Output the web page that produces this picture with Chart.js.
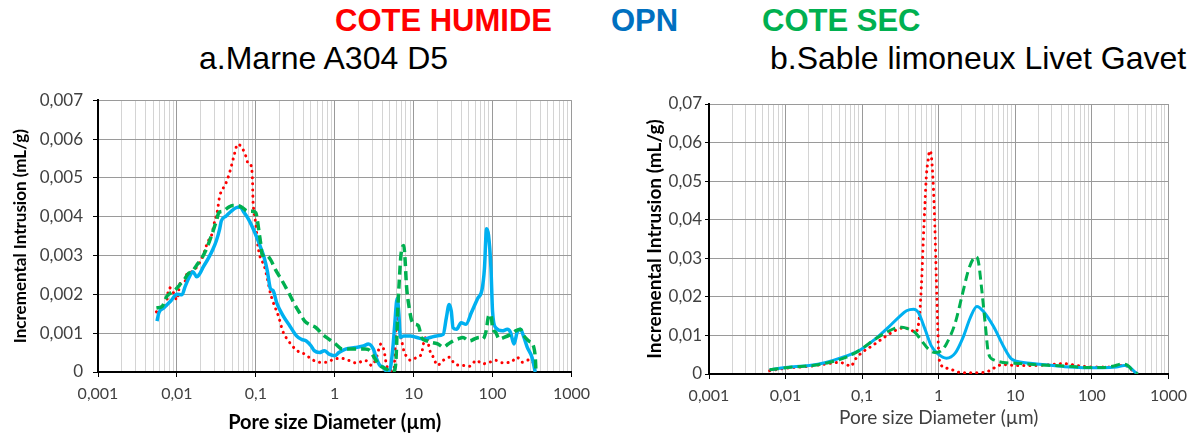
<!DOCTYPE html>
<html lang="fr">
<head>
<meta charset="UTF-8">
<title>Pore size distribution</title>
<script src="https://cdn.jsdelivr.net/npm/chart.js"></script>
<style>
    body { margin: 0; background: #fff; width: 1194px; height: 435px; overflow: hidden; position: relative; font-family: 'Liberation Sans', Arial, sans-serif; }
    .head { position: absolute; white-space: nowrap; line-height: 1; }
    .big { font-size: 31px; font-weight: bold; }
    .sub { font-size: 32px; color: #000; }
    .box { position: absolute; top: 80px; width: 597px; height: 355px; }
</style>
</head>
<body>
<div class="head big" style="left:335px; top:5px; color:#ff0000;">COTE HUMIDE</div>
<div class="head big" style="left:611px; top:5px; color:#0070c0;">OPN</div>
<div class="head big" style="left:762px; top:5px; color:#00b050;">COTE SEC</div>
<div class="head sub" style="left:199px; top:42px;">a.Marne A304 D5</div>
<div class="head sub" style="left:770px; top:42px;">b.Sable limoneux Livet Gavet</div>

<div class="box" style="left:0;"><canvas id="chartA"></canvas></div>
<div class="box" style="left:597px;"><canvas id="chartB"></canvas></div>

<script>
// tick labels
const xTickLabels = ['0,001', '0,01', '0,1', '1', '10', '100', '1000'];
const yLabelsA = ['0', '0,001', '0,002', '0,003', '0,004', '0,005', '0,006', '0,007'];
const yLabelsB = ['0', '0,01', '0,02', '0,03', '0,04', '0,05', '0,06', '0,07'];

// a. Marne A304 D5 -- pore diameter (µm) / incremental intrusion (mL/g)
const humideAX = [0.0055, 0.0065, 0.0074, 0.0076, 0.0081, 0.009, 0.01, 0.0105, 0.0108, 0.0127, 0.0133, 0.0154, 0.0178, 0.02, 0.0226, 0.0244, 0.0274, 0.0302, 0.0323, 0.0348, 0.0414, 0.0455, 0.0487, 0.0537, 0.0589, 0.068, 0.075, 0.081, 0.087, 0.0908, 0.092, 0.0954, 0.1, 0.105, 0.112, 0.127, 0.14, 0.153, 0.165, 0.194, 0.22, 0.251, 0.334, 0.428, 0.5, 0.64, 0.79, 1.0, 1.24, 1.5, 1.9, 2.43, 2.94, 3.39, 3.84, 4.22, 4.5, 4.96, 5.62, 5.9, 6.1, 6.3, 6.6, 6.9, 7.2, 7.6, 8.4, 9.1, 11, 12.6, 13.3, 14.7, 15.4, 16.3, 17.8, 20, 23.7, 28.7, 33, 42, 52, 62, 75, 91, 110, 133, 170, 205, 237, 288, 333, 348];
const humideAY = [0.00155, 0.00163, 0.00175, 0.00197, 0.00217, 0.00205, 0.00186, 0.00207, 0.00226, 0.00234, 0.00251, 0.00258, 0.0027, 0.00287, 0.00313, 0.00334, 0.00351, 0.00389, 0.0041, 0.00452, 0.00484, 0.00507, 0.00528, 0.00562, 0.00587, 0.00575, 0.00555, 0.00534, 0.00532, 0.0049, 0.00444, 0.0041, 0.0038, 0.00334, 0.003, 0.00275, 0.00241, 0.00203, 0.00181, 0.00143, 0.00105, 0.00084, 0.00055, 0.00045, 0.00034, 0.00025, 0.00025, 0.00034, 0.00035, 0.0003, 0.00023, 0.0003, 0.00017, 0.00038, 0.00072, 0.00055, 0.00021, 0.00004, 0.00004, 0.00088, 0.0013, 0.00144, 0.0011, 0.00089, 0.00072, 0.00051, 0.00038, 0.0003, 0.00038, 0.00047, 0.00072, 0.00093, 0.00072, 0.00051, 0.00038, 0.00017, 0.0003, 0.00038, 0.00021, 0.00017, 0.00015, 0.0003, 0.00021, 0.00025, 0.0003, 0.00024, 0.00025, 0.00038, 0.00025, 0.00031, 0.00021, 0.00004];
const opnAX = [0.0056, 0.0059, 0.0068, 0.0083, 0.01, 0.0116, 0.0127, 0.0147, 0.016, 0.0178, 0.0196, 0.0215, 0.0249, 0.0287, 0.0316, 0.0348, 0.0365, 0.0422, 0.0487, 0.0562, 0.063, 0.0714, 0.081, 0.091, 0.105, 0.115, 0.127, 0.14, 0.153, 0.165, 0.185, 0.224, 0.271, 0.328, 0.38, 0.436, 0.503, 0.55, 0.64, 0.74, 0.85, 1.0, 1.13, 1.37, 1.82, 2.31, 2.67, 3.09, 3.4, 3.73, 4.1, 4.5, 4.96, 5.46, 5.72, 6.2, 6.5, 6.8, 7.5, 9.1, 11, 13.3, 16.2, 19.6, 23.7, 26, 28.2, 30, 31.6, 35, 40, 46, 54, 65, 73.6, 79, 84, 89, 95.5, 100, 110, 133, 154, 169, 187, 205, 226, 250, 275, 316, 348];
const opnAY = [0.00131, 0.00152, 0.00165, 0.00182, 0.002, 0.00199, 0.0022, 0.00249, 0.00258, 0.00245, 0.00254, 0.0027, 0.00292, 0.00317, 0.00338, 0.00368, 0.00389, 0.00402, 0.00414, 0.00423, 0.00425, 0.0041, 0.00393, 0.00372, 0.00342, 0.00321, 0.00296, 0.0026, 0.00215, 0.0021, 0.00177, 0.00143, 0.00118, 0.00093, 0.00084, 0.0008, 0.00067, 0.00055, 0.0005, 0.00055, 0.00046, 0.00042, 0.0005, 0.00059, 0.00063, 0.00067, 0.00072, 0.00059, 0.00034, 0.00017, 0.00013, 0.00003, 0.00004, 0.00063, 0.00114, 0.0019, 0.0015, 0.00089, 0.00093, 0.00093, 0.00089, 0.00085, 0.00089, 0.00093, 0.00097, 0.0014, 0.00174, 0.00157, 0.00114, 0.0011, 0.00127, 0.00123, 0.00153, 0.0019, 0.00212, 0.00267, 0.00369, 0.00352, 0.00267, 0.00157, 0.00114, 0.00106, 0.0011, 0.00102, 0.00072, 0.00102, 0.0011, 0.00089, 0.00064, 0.00038, 0];
const secAX = [0.0055, 0.0065, 0.0074, 0.0083, 0.0095, 0.0108, 0.0127, 0.014, 0.0158, 0.0178, 0.0205, 0.0237, 0.0274, 0.0316, 0.034, 0.0383, 0.0442, 0.051, 0.059, 0.068, 0.079, 0.091, 0.1, 0.105, 0.11, 0.117, 0.12, 0.132, 0.153, 0.176, 0.214, 0.258, 0.313, 0.36, 0.417, 0.48, 0.58, 0.7, 0.85, 1.03, 1.25, 1.58, 2.0, 2.43, 2.8, 3.23, 3.73, 4.5, 5.2, 5.72, 6.0, 6.3, 6.6, 6.9, 7.2, 7.5, 7.8, 8.1, 8.8, 9.5, 10.5, 11.5, 12.6, 14.7, 17, 20.5, 23.7, 27.4, 31.6, 36.5, 42, 51, 59, 68, 75, 83, 89, 95.5, 100, 110, 121, 140, 170, 196, 226, 250, 288, 333, 350, 355];
const secAY = [0.00165, 0.00169, 0.00194, 0.00203, 0.00211, 0.00224, 0.00241, 0.00254, 0.0026, 0.00275, 0.00292, 0.00317, 0.00351, 0.00389, 0.0041, 0.00414, 0.00423, 0.00429, 0.00429, 0.00423, 0.00414, 0.00414, 0.0041, 0.00389, 0.0036, 0.00321, 0.003, 0.00303, 0.0029, 0.00265, 0.00236, 0.00206, 0.00173, 0.00152, 0.00131, 0.00122, 0.00114, 0.00097, 0.00084, 0.00072, 0.00059, 0.00059, 0.00059, 0.00059, 0.00055, 0.00034, 0.00017, 0.00008, 0, 0.00004, 0.00038, 0.0016, 0.0024, 0.003, 0.00322, 0.00326, 0.00288, 0.00225, 0.00165, 0.00131, 0.00123, 0.00119, 0.00089, 0.0008, 0.00076, 0.00072, 0.00064, 0.00072, 0.0008, 0.00085, 0.00089, 0.0008, 0.00085, 0.00089, 0.00085, 0.00106, 0.00144, 0.00148, 0.00114, 0.00102, 0.00085, 0.00089, 0.00097, 0.00106, 0.0011, 0.00093, 0.0008, 0.00064, 0.0003, 0];

// b. Sable limoneux Livet Gavet
const humideBX = [0.0062, 0.01, 0.0204, 0.0336, 0.05, 0.0607, 0.0708, 0.082, 0.1, 0.135, 0.182, 0.245, 0.33, 0.42, 0.49, 0.54, 0.57, 0.6, 0.63, 0.66, 0.69, 0.73, 0.76, 0.8, 0.845, 0.89, 0.93, 0.97, 1.01, 1.22, 1.49, 2.0, 2.6, 3.8, 4.9, 5.7, 7.0, 10.4, 17, 28, 42, 56, 76, 114, 170, 240, 295, 340, 397];
const humideBY = [0.00086, 0.0015, 0.002, 0.0026, 0.003, 0.0026, 0.002, 0.0039, 0.0056, 0.0073, 0.0091, 0.0108, 0.0119, 0.0117, 0.0108, 0.0125, 0.0168, 0.0246, 0.035, 0.0436, 0.0514, 0.0557, 0.0579, 0.0566, 0.0497, 0.0384, 0.0246, 0.0125, 0.0039, 0.0016, 0.0011, 0.0003, 0.0003, 0.0004, 0.0011, 0.002, 0.0024, 0.0022, 0.0022, 0.0024, 0.0027, 0.0024, 0.002, 0.0018, 0.0018, 0.0022, 0.002, 0.0009, 0];
const opnBX = [0.0062, 0.01, 0.0204, 0.0336, 0.055, 0.09, 0.149, 0.22, 0.3, 0.38, 0.47, 0.54, 0.66, 0.8, 0.98, 1.26, 1.64, 2.1, 2.57, 3.15, 3.84, 5.2, 7.0, 8.9, 12.6, 19, 31, 51, 85, 139, 209, 265, 310, 357, 397];
const opnBY = [0.0011, 0.0017, 0.0022, 0.003, 0.0043, 0.006, 0.0091, 0.0121, 0.0147, 0.0164, 0.0168, 0.016, 0.0117, 0.0073, 0.0052, 0.0041, 0.0054, 0.0097, 0.0145, 0.0175, 0.0162, 0.0123, 0.0072, 0.0039, 0.003, 0.0026, 0.0022, 0.0018, 0.0016, 0.0016, 0.0018, 0.0022, 0.0018, 0.0007, 0];
const secBX = [0.0062, 0.0124, 0.0225, 0.037, 0.061, 0.09, 0.149, 0.2, 0.27, 0.33, 0.4, 0.49, 0.6, 0.73, 0.89, 1.07, 1.26, 1.64, 2.0, 2.45, 2.85, 3.08, 3.3, 3.65, 4.04, 4.46, 5.2, 7.0, 11.5, 19, 31, 51, 85, 139, 186, 250, 295, 340, 397];
const secBY = [0.0011, 0.0018, 0.0022, 0.003, 0.0043, 0.006, 0.0091, 0.0106, 0.0119, 0.0121, 0.0117, 0.0108, 0.0086, 0.0065, 0.0056, 0.006, 0.0078, 0.0132, 0.02, 0.027, 0.03, 0.0304, 0.0291, 0.0218, 0.0132, 0.0054, 0.0037, 0.003, 0.0027, 0.0024, 0.0022, 0.002, 0.0017, 0.0017, 0.002, 0.0026, 0.0022, 0.0009, 0];

function pts(xs, ys) {
    return xs.map((x, i) => ({ x: x, y: ys[i] }));
}

function isDecade(v) {
    const l = Math.log10(v);
    return Math.abs(l - Math.round(l)) < 1e-6;
}
function isWhole(v) {
    const m = v / Math.pow(10, Math.floor(Math.log10(v) + 1e-9));
    return Math.abs(m - Math.round(m)) < 1e-6;
}

function makeChart(id, cfg) {
    const yStep = cfg.yMax / 7;
    return new Chart(document.getElementById(id), {
        type: 'line',
        data: {
            datasets: [
                {
                    label: 'COTE SEC', data: pts(cfg.sec[0], cfg.sec[1]),
                    borderColor: '#00b050', borderWidth: cfg.w + 0.5, borderDash: [9, 5],
                    pointRadius: 0, cubicInterpolationMode: 'monotone', fill: false
                },
                {
                    label: 'OPN', data: pts(cfg.opn[0], cfg.opn[1]),
                    borderColor: '#00b0f0', borderWidth: cfg.w + 0.5,
                    pointRadius: 0, cubicInterpolationMode: 'monotone', fill: false
                },
                {
                    label: 'COTE HUMIDE', data: pts(cfg.hum[0], cfg.hum[1]),
                    borderColor: '#ff0000', borderWidth: 3, borderDash: [0.1, 6], borderCapStyle: 'round',
                    pointRadius: 0, cubicInterpolationMode: 'monotone', fill: false
                }
            ]
        },
        options: {
            responsive: true,
            maintainAspectRatio: false,
            animation: false,
            layout: { padding: cfg.pad },
            plugins: { legend: { display: false }, tooltip: { enabled: false } },
            scales: {
                x: {
                    type: 'logarithmic',
                    min: 0.001,
                    max: 1000,
                    border: { display: true, color: '#000', width: 2 },
                    grid: {
                        color: ctx => !isWhole(ctx.tick.value) ? 'rgba(0,0,0,0)' : (isDecade(ctx.tick.value) ? '#9a9a9a' : '#d4d4d4'),
                        tickColor: ctx => isDecade(ctx.tick.value) ? '#000' : 'rgba(0,0,0,0)',
                        tickLength: 5,
                        lineWidth: 1
                    },
                    ticks: {
                        autoSkip: false,
                        maxRotation: 0,
                        padding: cfg.xPad,
                        color: '#404040',
                        font: { family: 'Lato', size: 16 },
                        callback: v => isDecade(v) ? xTickLabels[Math.round(Math.log10(v)) + 3] : ''
                    },
                    title: {
                        display: true,
                        text: 'Pore size Diameter (µm)',
                        color: cfg.xTitleBold ? '#000' : '#404040',
                        font: { family: 'Lato', size: cfg.xTitleSize, weight: cfg.xTitleBold ? 'bold' : 'normal' },
                        padding: { top: 0, bottom: cfg.xTitleBottom }
                    },
                    afterFit: s => { s.height = cfg.xH; }
                },
                y: {
                    min: 0,
                    max: cfg.yMax,
                    border: { display: true, color: '#000', width: 2 },
                    grid: { color: '#9a9a9a', tickColor: '#000', tickLength: cfg.yTick, lineWidth: 1 },
                    ticks: {
                        stepSize: yStep,
                        padding: cfg.yPad,
                        color: '#404040',
                        font: { family: 'Lato', size: cfg.yTickSize },
                        callback: v => cfg.yLabels[Math.round(v / yStep)]
                    },
                    title: {
                        display: true,
                        text: 'Incremental Intrusion (mL/g)',
                        color: '#000',
                        font: { family: 'Lato', size: cfg.yTitleSize, weight: 'bold' },
                        padding: { top: cfg.yTitleTop, bottom: 0 }
                    },
                    afterFit: s => { s.width = cfg.yW; }
                }
            }
        }
    });
}

makeChart('chartA', {
    hum: [humideAX, humideAY], opn: [opnAX, opnAY], sec: [secAX, secAY],
    yMax: 0.007, yLabels: yLabelsA, w: 3,
    pad: { top: 15, right: 18, bottom: 0, left: 0 },
    xH: 63, yW: 98, xPad: 7, yPad: 10, yTick: 5, yTickSize: 17,
    xTitleSize: 20, xTitleBold: true, xTitleBottom: 0,
    yTitleSize: 17, yTitleTop: 10
});

makeChart('chartB', {
    hum: [humideBX, humideBY], opn: [opnBX, opnBY], sec: [secBX, secBY],
    yMax: 0.07, yLabels: yLabelsB, w: 2.5,
    pad: { top: 24, right: 21, bottom: 0, left: 0 },
    xH: 61, yW: 112, xPad: 7, yPad: 3, yTick: 4, yTickSize: 17,
    xTitleSize: 19, xTitleBold: false, xTitleBottom: 6,
    yTitleSize: 19, yTitleTop: 46
});
</script>
</body>
</html>
